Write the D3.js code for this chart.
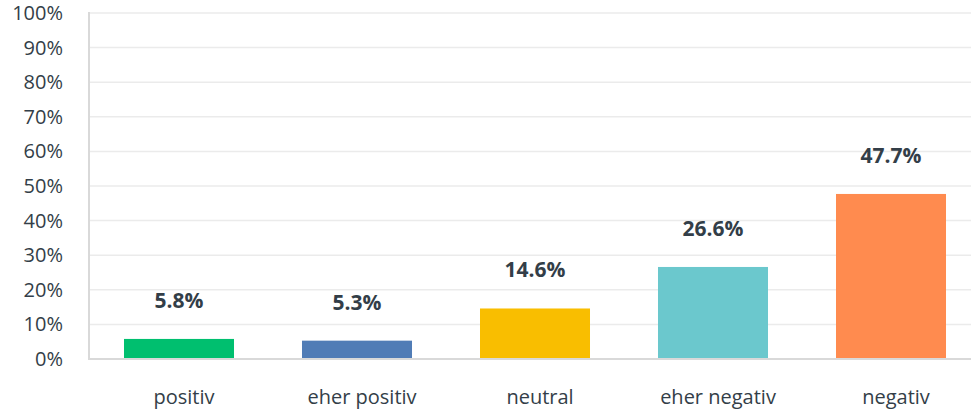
<!DOCTYPE html>
<html><head><meta charset="utf-8">
<script src="https://cdn.jsdelivr.net/npm/d3@7"></script>
<style>
html,body{margin:0;padding:0;background:#fff;}
svg{display:block;}
</style></head>
<body>
<svg id="chart" width="971" height="412"></svg>
<script>
const categories = ["positiv","eher positiv","neutral","eher negativ","negativ"];
const values = [5.8, 5.3, 14.6, 26.6, 47.7];
const colors = ["#00bf6f","#507cb6","#f9be00","#6bc8cd","#ff8b4f"];
const yTicks = [0,10,20,30,40,50,60,70,80,90,100];

const svg = d3.select("#chart");
const font = "'Open Sans', 'Noto Sans', sans-serif";
const textColor = "#333e48";

const x = d3.scaleBand().domain(categories).range([90, 980]).paddingInner(0.382).paddingOuter(0.191);
const y = d3.scaleLinear().domain([0,100]).range([359, 13]);

// gridlines
svg.append("g").selectAll("line").data(yTicks.filter(d=>d>0)).join("line")
  .attr("x1", 89).attr("x2", 971)
  .attr("y1", d=>y(d)).attr("y2", d=>y(d))
  .attr("stroke", "#ebebeb").attr("stroke-width", 1.5);

// y axis labels
const yAxis = d3.axisLeft(y).tickValues(yTicks).tickFormat(d=>d+"%").tickSize(0).tickPadding(0);
const gy = svg.append("g").attr("transform","translate(63,0)").call(yAxis);
gy.select(".domain").remove();
gy.selectAll("text").attr("font-family", font).attr("font-size", 20).attr("fill", textColor);

// bars
svg.append("g").selectAll("rect").data(values).join("rect")
  .attr("x", (d,i)=>x(categories[i]))
  .attr("width", x.bandwidth())
  .attr("y", d=>y(d))
  .attr("height", d=>y(0)-y(d)-1)
  .attr("fill", (d,i)=>colors[i]);

// axis lines
svg.append("line").attr("x1",89).attr("x2",89).attr("y1",12).attr("y2",360)
  .attr("stroke","#d9d9d9").attr("stroke-width",2);
svg.append("line").attr("x1",88).attr("x2",971).attr("y1",359).attr("y2",359)
  .attr("stroke","#d9d9d9").attr("stroke-width",2);

// value labels
svg.append("g").selectAll("text").data(values).join("text")
  .attr("x", (d,i)=>x(categories[i]) + x.bandwidth()/2)
  .attr("y", d=>y(d) - 31)
  .attr("text-anchor","middle")
  .attr("font-family", font).attr("font-weight", 700).attr("font-size", 21)
  .attr("fill", textColor)
  .text(d=>d.toFixed(1)+"%");

// category labels
const xAxis = d3.axisBottom(x).tickSize(0).tickPadding(0);
const gx = svg.append("g").attr("transform","translate(0,390)").call(xAxis);
gx.select(".domain").remove();
gx.selectAll("text").attr("dy", null).attr("y", 14).attr("dx", 5).attr("font-family", font).attr("font-size", 20).attr("fill", textColor);
</script>
</body></html>
